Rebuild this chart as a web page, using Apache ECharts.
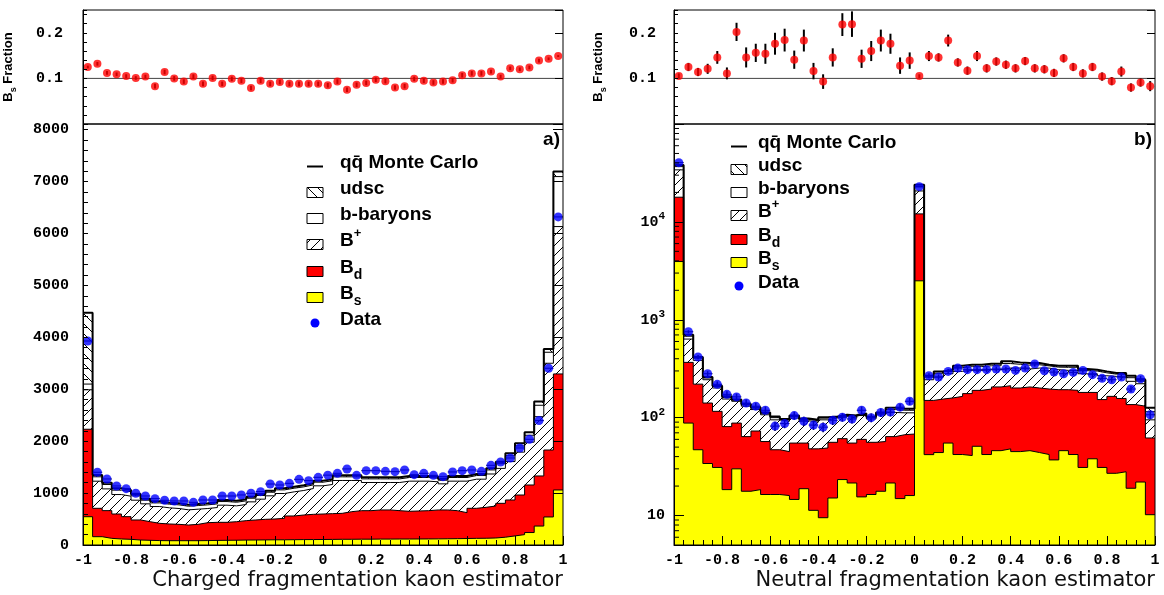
<!DOCTYPE html>
<html>
<head>
<meta charset="utf-8">
<script src="https://cdn.jsdelivr.net/npm/echarts@6/dist/echarts.min.js"></script>
<style>
  html, body { margin: 0; padding: 0; background: #fff; }
  #chart { width: 1164px; height: 595px; }
</style>
</head>
<body>
<div id="chart"></div>
<script>
// ---- binning of both kaon estimators ----
const X_MIN = -1, X_MAX = 1, N_BINS = 50;
const xTickLabels = ['-1', '-0.8', '-0.6', '-0.4', '-0.2', '0', '0.2', '0.4', '0.6', '0.8', '1'];

// ---- a) charged fragmentation kaon estimator: upper edge of each stacked MC layer ----
const chBsTop = [545,160,128,116,109,96,90,85,83,83,83,83,85,88,90,92,95,96,98,100,100,102,104,105,106,108,110,110,112,112,114,114,115,115,116,117,118,120,122,125,128,130,135,150,175,200,240,365,540,1060];
const chBdTop = [2230,707,662,597,546,482,449,417,405,398,385,398,430,437,437,449,469,482,495,501,514,559,578,591,597,604,610,642,661,661,675,675,661,649,655,661,675,675,661,623,707,726,751,803,867,963,1156,1330,1830,3295];
const chBplusTop = [2990,1229,1081,972,940,863,793,741,716,703,677,690,703,722,767,754,780,831,883,947,992,1024,1050,1088,1140,1166,1243,1243,1243,1204,1204,1204,1204,1230,1230,1230,1217,1178,1230,1230,1268,1268,1368,1476,1607,1789,1981,2472,3501,6134];
const chBbaryonTop = [3100,1314,1166,1057,1025,948,863,811,786,773,747,760,773,792,837,824,850,901,953,1017,1062,1094,1120,1158,1210,1236,1313,1313,1313,1274,1274,1274,1274,1300,1300,1300,1287,1248,1300,1300,1338,1338,1446,1566,1719,1909,2114,2692,3713,7097];
const chMcTotal = [4475,1349,1201,1092,1060,983,893,841,816,803,777,790,803,822,867,854,880,931,983,1047,1092,1124,1150,1188,1240,1266,1343,1343,1343,1304,1304,1304,1304,1330,1330,1330,1317,1278,1330,1330,1368,1368,1478,1606,1767,1959,2171,2762,3777,7194];
const chData = [3930,1401,1272,1137,1085,996,944,893,861,848,848,822,867,867,944,944,964,996,1028,1175,1156,1188,1265,1240,1304,1346,1381,1465,1342,1432,1432,1419,1413,1445,1355,1381,1342,1317,1407,1432,1445,1419,1535,1599,1676,1869,2036,2396,3405,6320];
const chBsFrac = [0.125,0.132,0.112,0.109,0.105,0.101,0.104,0.083,0.114,0.100,0.093,0.104,0.088,0.101,0.088,0.099,0.095,0.079,0.095,0.088,0.092,0.088,0.088,0.088,0.088,0.085,0.093,0.075,0.086,0.090,0.097,0.094,0.080,0.083,0.099,0.095,0.091,0.093,0.096,0.107,0.111,0.111,0.115,0.104,0.122,0.120,0.124,0.139,0.143,0.149];
const chBsFracErr = [0.003,0.004,0.004,0.004,0.004,0.004,0.004,0.005,0.005,0.005,0.005,0.005,0.005,0.005,0.005,0.005,0.005,0.005,0.005,0.005,0.005,0.005,0.005,0.005,0.005,0.005,0.005,0.005,0.005,0.005,0.005,0.005,0.005,0.005,0.005,0.005,0.005,0.005,0.005,0.005,0.005,0.005,0.004,0.004,0.004,0.004,0.004,0.004,0.003,0.002];

// ---- b) neutral fragmentation kaon estimator ----
const neuBsTop = [3935,88,47,34,31,18.4,30,17.7,18.4,16.4,16.4,16,14.6,18.8,11.3,9.5,15.1,23.3,21.5,15.5,16.4,17.7,21.5,14.9,16,2500,41.9,44,55,42,41,51,42,46,48,45,46,44,42,37,46,42,31,38,31,27,28,19,22,10.2];
const neuBdTop = [17870,367,220,141,116,81,88,64,73,57,47,45,55,55,48,49,56,61,55,60,56,57,64,67,68,12070,150,155,159,165,176,190,196,206,212,201,206,201,196,193,193,190,181,181,153,165,157,136,131,62];
const neuBplusTop = [34000,635,385,244,201,155,147,131,121,107,95,92,99,93,90,95,99,103,99,105,97,107,113,112,112,20700,244,260,281,297,304,304,309,309,321,321,314,321,321,309,304,304,281,281,268,264,260,235,222,95];
const neuBbaryonTop = [36700,679,405,254,208,161,151,135,125,111,100,95,103,96,93,99,101,105,103,108,100,111,121,119,119,22800,259,284,299,324,332,332,339,339,357,351,344,347,338,328,327,327,302,299,287,278,277,256,236,115];
const neuMcTotal = [38150,703,416,260,212,165,153,138,128,113,103,97,105,98,95,101,103,107,105,110,102,113,126,123,123,24000,268,297,309,339,348,348,356,356,376,367,361,361,348,339,339,339,314,309,297,286,286,268,244,126];
const neuData = [40300,754,416,281,219,173,163,141,131,119,82,87,105,92,84,80,94,101,97,119,100,113,114,128,147,22900,268,260,297,321,309,309,309,314,314,304,321,353,301,292,281,290,304,275,252,244,260,196,250,107];
const neuDataErr = [200,27,20,17,15,13,13,12,11,11,9,9,10,10,9,9,10,10,10,11,10,11,11,11,12,150,16,16,17,18,18,18,18,18,18,17,18,19,17,17,17,17,17,17,16,16,16,14,16,10];
const neuBsFrac = [0.105,0.125,0.114,0.121,0.146,0.111,0.202,0.146,0.156,0.154,0.176,0.184,0.141,0.183,0.116,0.093,0.146,0.218,0.219,0.143,0.160,0.183,0.176,0.128,0.139,0.105,0.149,0.146,0.183,0.135,0.117,0.149,0.122,0.137,0.130,0.122,0.138,0.122,0.120,0.112,0.144,0.125,0.111,0.125,0.104,0.094,0.115,0.080,0.091,0.083];
const neuBsFracErr = [0.006,0.009,0.009,0.011,0.014,0.013,0.020,0.022,0.020,0.022,0.024,0.025,0.020,0.024,0.018,0.016,0.020,0.025,0.028,0.020,0.022,0.024,0.022,0.018,0.018,0.004,0.011,0.009,0.013,0.009,0.009,0.011,0.009,0.009,0.009,0.009,0.009,0.009,0.009,0.009,0.009,0.009,0.009,0.009,0.009,0.009,0.011,0.009,0.009,0.011];

// ---- legend ----
const legendLabels = [
  '{t|qq\u0304 Monte Carlo}',
  '{t|udsc}',
  '{t|b-baryons}',
  '{t|B}{sup|+}',
  '{t|B}{sub|d}',
  '{t|B}{sub|s}',
  '{t|Data}'
];

// ---- helpers ----
const BW = (X_MAX - X_MIN) / N_BINS;
const edge = i => +(X_MIN + i * BW).toFixed(6);
const centre = i => +(X_MIN + (i + 0.5) * BW).toFixed(6);
function stepPoints(tops) {
  const pts = tops.map((v, i) => [edge(i), v]);
  pts.push([X_MAX, tops[tops.length - 1]]);
  return pts;
}
function hatch(forward) {
  const s = 10, c = document.createElement('canvas');
  c.width = s; c.height = s;
  const g = c.getContext('2d');
  g.fillStyle = '#fff'; g.fillRect(0, 0, s, s);
  g.strokeStyle = '#000'; g.lineWidth = 1;
  g.beginPath();
  if (forward) { g.moveTo(-2, s + 2); g.lineTo(s + 2, -2); }
  else { g.moveTo(-2, -2); g.lineTo(s + 2, s + 2); }
  g.stroke();
  return { image: c, repeat: 'repeat' };
}
const HATCH_FWD = hatch(true);    // B+
const HATCH_BACK = hatch(false);  // udsc
const YELLOW = '#ffff00', RED = '#ff0000', BLUE = '#0000ff';

const MONO = { fontFamily: 'Liberation Mono', fontWeight: 'bold', fontSize: 15, color: '#000' };
const SANS_B = 'Liberation Sans';

function layer(name, xi, yi, tops, fill, lw) {
  return {
    name, type: 'line', xAxisIndex: xi, yAxisIndex: yi, step: 'end',
    symbol: 'none', silent: true, z: 2, data: stepPoints(tops),
    lineStyle: { color: '#000', width: lw },
    areaStyle: { color: fill, opacity: 1, origin: 'start' }
  };
}
function errorBars(xi, yi, vals, errs, hw, lw, z) {
  return {
    type: 'custom', xAxisIndex: xi, yAxisIndex: yi, silent: true, z,
    data: vals.map((v, i) => [centre(i), v, errs ? errs[i] : 0]),
    encode: { x: 0, y: 1 },
    renderItem(params, api) {
      const x = api.value(0), y = api.value(1), e = api.value(2);
      const cs = params.coordSys;
      const clamp = p => Math.max(cs.y, Math.min(cs.y + cs.height, p));
      const kids = [];
      if (e > 0) {
        const a = api.coord([x, y + e]), b = api.coord([x, y - e]);
        kids.push({ type: 'line', shape: { x1: a[0], y1: clamp(a[1]), x2: b[0], y2: clamp(b[1]) },
          style: { stroke: '#000', lineWidth: lw } });
      }
      if (hw > 0) {
        const l = api.coord([x - hw, y]), r = api.coord([x + hw, y]);
        kids.push({ type: 'line', shape: { x1: l[0], y1: l[1], x2: r[0], y2: r[1] },
          style: { stroke: '#000', lineWidth: 1 } });
      }
      return { type: 'group', children: kids };
    }
  };
}
function dots(xi, yi, vals, color, size) {
  return {
    type: 'scatter', xAxisIndex: xi, yAxisIndex: yi, silent: true, z: 4,
    symbol: 'circle', symbolSize: size, itemStyle: { color },
    data: vals.map((v, i) => [centre(i), v])
  };
}
function refLine(xi, yi) {
  return {
    type: 'line', xAxisIndex: xi, yAxisIndex: yi, silent: true, z: 1, symbol: 'none',
    data: [[X_MIN, 0.1], [X_MAX, 0.1]], lineStyle: { color: '#444', width: 1 }
  };
}

// ---- axes ----
const xFmt = v => {
  const k = Math.round((v - X_MIN) / 0.2);
  return Math.abs(v - (X_MIN + 0.2 * k)) < 1e-6 ? xTickLabels[k] : '';
};
function ratioX(grid) {
  return { gridIndex: grid, type: 'value', min: X_MIN, max: X_MAX, interval: 0.2,
    axisLine: { show: false }, axisTick: { show: false }, axisLabel: { show: false },
    splitLine: { show: false } };
}
function mainX(grid, title) {
  return { gridIndex: grid, type: 'value', min: X_MIN, max: X_MAX, interval: 0.2, z: 10,
    axisLine: { show: true, onZero: false, lineStyle: { color: '#000', width: 1 } },
    axisTick: { show: true, inside: true, length: 9, lineStyle: { color: '#000' } },
    minorTick: { show: true, splitNumber: 5, length: 5, lineStyle: { color: '#000' } },
    axisLabel: Object.assign({ formatter: xFmt, margin: 8 }, MONO),
    splitLine: { show: false }, minorSplitLine: { show: false },
    name: title, nameLocation: 'end', nameGap: 0,
    nameTextStyle: { fontFamily: 'DejaVu Sans', fontWeight: 'normal', fontSize: 21, color: '#111',
      align: 'right', verticalAlign: 'top', padding: [25, 0, 0, 0] } };
}
const ratioName = '{b|B}{s|s}{b| Fraction}';
const ratioNameStyle = { color: '#000', rich: {
  b: { fontFamily: SANS_B, fontWeight: 'bold', fontSize: 13, lineHeight: 20 },
  s: { fontFamily: SANS_B, fontWeight: 'bold', fontSize: 9, verticalAlign: 'bottom' } } };
function ratioY(grid, gap, margin) {
  return { gridIndex: grid, type: 'value', min: 0, max: 0.25, interval: 0.02, z: 10,
    axisLine: { show: true, onZero: false, lineStyle: { color: '#000' } },
    axisTick: { show: true, inside: true, length: 4, lineStyle: { color: '#000' } },
    axisLabel: Object.assign({ margin, formatter: v =>
      Math.abs(v - 0.1) < 1e-6 ? '0.1' : (Math.abs(v - 0.2) < 1e-6 ? '0.2' : '') }, MONO),
    splitLine: { show: false },
    name: ratioName, nameLocation: 'middle', nameGap: gap, nameTextStyle: ratioNameStyle };
}
function ratioMajorY(grid) {
  return { gridIndex: grid, type: 'value', min: 0, max: 0.25, interval: 0.1, z: 10,
    axisLine: { show: false, onZero: false }, axisLabel: { show: false }, splitLine: { show: false },
    axisTick: { show: true, inside: true, length: 8, lineStyle: { color: '#000' } } };
}
const logFmt = v => {
  const e = Math.round(Math.log10(v));
  if (e < 1 || e > 4 || Math.abs(v - Math.pow(10, e)) > 1e-6 * v) return '';
  return e === 1 ? '{b|10}' : '{b|10}{s|' + e + '}';
};

// minor ticks of the logarithmic axis (2..9 per decade)
const logMinor = [];
for (let e = 0; e <= 4; e++) for (let m = 2; m <= 9; m++) {
  const v = m * Math.pow(10, e);
  if (v > 5 && v < 1e5) logMinor.push(v);
}

const option = {
  animation: false,
  backgroundColor: '#fff',
  grid: [
    { left: 83, top: 10, width: 480, height: 114, show: true, borderColor: '#000', borderWidth: 1, z: 10, outerBoundsMode: 'none' },
    { left: 83, top: 124, width: 480, height: 421, show: true, borderColor: '#000', borderWidth: 1, z: 10, outerBoundsMode: 'none' },
    { left: 674, top: 10, width: 481, height: 114, show: true, borderColor: '#000', borderWidth: 1, z: 10, outerBoundsMode: 'none' },
    { left: 674, top: 124, width: 481, height: 421, show: true, borderColor: '#000', borderWidth: 1, z: 10, outerBoundsMode: 'none' }
  ],
  xAxis: [
    ratioX(0),
    mainX(1, 'Charged fragmentation kaon estimator'),
    ratioX(2),
    mainX(3, 'Neutral fragmentation kaon estimator')
  ],
  yAxis: [
    ratioY(0, 65, 20),
    { gridIndex: 1, type: 'value', min: 0, max: 8110, interval: 200, z: 10,
      axisLine: { show: true, onZero: false, lineStyle: { color: '#000' } },
      axisTick: { show: true, inside: true, length: 5, lineStyle: { color: '#000' } },
      axisLabel: Object.assign({ margin: 14, formatter: v => (v % 1000 === 0 && v <= 8000) ? String(v) : '' }, MONO),
      splitLine: { show: false } },
    ratioY(2, 66, 18),
    { gridIndex: 3, type: 'log', logBase: 10, min: 5, max: 100000, z: 10,
      axisLine: { show: true, onZero: false, lineStyle: { color: '#000' } },
      axisTick: { show: true, inside: true, length: 10, lineStyle: { color: '#000' } },
      axisLabel: { margin: 9, formatter: logFmt, color: '#000', rich: {
        b: { fontFamily: 'Liberation Mono', fontWeight: 'bold', fontSize: 15, lineHeight: 22 },
        s: { fontFamily: 'Liberation Mono', fontWeight: 'bold', fontSize: 11, verticalAlign: 'top' } } },
      splitLine: { show: false }, minorTick: { show: false } },
    ratioMajorY(0),
    { gridIndex: 1, type: 'value', min: 0, max: 8110, interval: 1000, z: 10,
      axisLine: { show: false, onZero: false }, axisLabel: { show: false }, splitLine: { show: false },
      axisTick: { show: true, inside: true, length: 10, lineStyle: { color: '#000' } } },
    ratioMajorY(2)
  ],
  series: [
    // a) ratio
    refLine(0, 0),
    errorBars(0, 0, chBsFrac, chBsFracErr, 0, 2, 3),
    dots(0, 0, chBsFrac, RED, 8),
    // a) stacked MC
    layer('udsc', 1, 1, chMcTotal, HATCH_BACK, 2),
    layer('b-baryons', 1, 1, chBbaryonTop, '#fff', 1),
    layer('B+', 1, 1, chBplusTop, HATCH_FWD, 1),
    layer('Bd', 1, 1, chBdTop, RED, 1),
    layer('Bs', 1, 1, chBsTop, YELLOW, 1),
    errorBars(1, 1, chData, null, BW / 2, 1, 3),
    dots(1, 1, chData, BLUE, 9),
    // b) ratio
    refLine(2, 2),
    errorBars(2, 2, neuBsFrac, neuBsFracErr, 0, 2, 3),
    dots(2, 2, neuBsFrac, RED, 8),
    // b) stacked MC
    layer('udsc', 3, 3, neuMcTotal, HATCH_BACK, 2),
    layer('b-baryons', 3, 3, neuBbaryonTop, '#fff', 1),
    layer('B+', 3, 3, neuBplusTop, HATCH_FWD, 1),
    layer('Bd', 3, 3, neuBdTop, RED, 1),
    layer('Bs', 3, 3, neuBsTop, YELLOW, 1),
    errorBars(3, 3, neuData, neuDataErr, BW / 2, 1.5, 3),
    dots(3, 3, neuData, BLUE, 9),
    {
      type: 'custom', xAxisIndex: 3, yAxisIndex: 3, silent: true, z: 11,
      data: logMinor.map(v => [X_MIN, v]), encode: { x: 0, y: 1 },
      renderItem(params, api) {
        const p = api.coord([api.value(0), api.value(1)]);
        return { type: 'line', shape: { x1: p[0], y1: p[1], x2: p[0] + 5, y2: p[1] },
          style: { stroke: '#000', lineWidth: 1 } };
      }
    }
  ],
  graphic: []
};

// ---- legends and panel tags ----
const legendFills = [null, HATCH_BACK, '#fff', HATCH_FWD, RED, YELLOW, null];
const legendRich = {
  t: { fontFamily: SANS_B, fontWeight: 'bold', fontSize: 19, lineHeight: 28, fill: '#000' },
  sub: { fontFamily: SANS_B, fontWeight: 'bold', fontSize: 14, verticalAlign: 'bottom', fill: '#000' },
  sup: { fontFamily: SANS_B, fontWeight: 'bold', fontSize: 13, verticalAlign: 'top', fill: '#000' }
};
function addLegend(symX, textX, rows) {
  rows.forEach((y, i) => {
    if (i === 0) {
      option.graphic.push({ type: 'line', z: 20, shape: { x1: symX, y1: y + 3.5, x2: symX + 16, y2: y + 3.5 },
        style: { stroke: '#000', lineWidth: 2 } });
    } else if (i === rows.length - 1) {
      option.graphic.push({ type: 'circle', z: 20, shape: { cx: symX + 8, cy: y + 3, r: 4.5 },
        style: { fill: BLUE } });
    } else {
      option.graphic.push({ type: 'rect', z: 20, shape: { x: symX, y: y - 1.5, width: 16, height: 10 },
        style: { fill: legendFills[i], stroke: '#000', lineWidth: 1 } });
    }
    option.graphic.push({ type: 'text', z: 20, x: textX, y: y,
      style: { text: legendLabels[i], rich: legendRich, align: 'left', verticalAlign: 'middle' } });
  });
}
addLegend(307, 340, [163, 189, 215, 241, 268, 294, 320]);
addLegend(731, 758, [143, 166, 189, 212, 236, 259, 283]);
[['a)', 560], ['b)', 1152]].forEach(([t, x]) => {
  option.graphic.push({ type: 'text', z: 20, x, y: 140,
    style: { text: t, fontFamily: SANS_B, fontWeight: 'bold', fontSize: 19, fill: '#000',
      align: 'right', verticalAlign: 'middle' } });
});

const chart = echarts.init(document.getElementById('chart'), null, { renderer: 'canvas' });
chart.setOption(option);
</script>
</body>
</html>
